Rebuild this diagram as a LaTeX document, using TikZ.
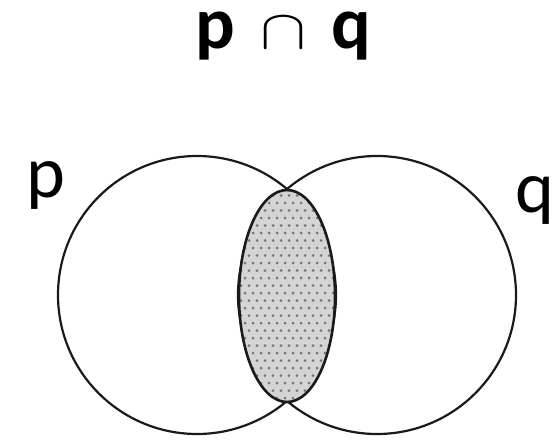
\documentclass[tikz,border=0pt]{standalone}
\usepackage{fontspec}
\setmainfont{Carlito}
\usepackage{graphicx}
\usepackage{tikz}
\definecolor{vennLine}{HTML}{1A1A1A}
\definecolor{vennFill}{HTML}{D4D4D4}
\definecolor{vennDot}{HTML}{737373}

\begin{document}
\begin{tikzpicture}[x=1pt, y=-1pt, font=\fontsize{74}{80}\selectfont]
        \useasboundingbox (0,0) rectangle (559,439);
        % Título
        \node[anchor=base, inner sep=0pt, text height=36pt, font=\fontsize{74}{80}\selectfont\bfseries] (titulo) at (283,48)
          {p\hspace{25pt}\resizebox{46pt}{31pt}{$\cap$}\hspace{25pt}q};
        % Conjuntos p y q
        \draw[vennLine, line width=2.2pt] (197,295) circle (139);
        \draw[vennLine, line width=2.2pt] (377,295) circle (139);
        % Intersección: relleno gris con puntos (tapa los arcos)
        \begin{scope}
          \clip (287,296) ellipse [x radius=48, y radius=106];
          \fill[vennFill] (230,180) rectangle (345,410);
          \foreach \i in {0,...,14} {
            \foreach \j in {0,...,15} {
              \fill[vennDot] (237+8*\i,188+15*\j) circle (1.5pt);
              \fill[vennDot] (241+8*\i,195.5+15*\j) circle (1.5pt);
            }
          }
        \end{scope}
        \draw[vennLine, line width=2.6pt] (287,296) ellipse [x radius=48, y radius=106];
        % Etiquetas
        \node[anchor=base, inner sep=0pt, text height=36pt] (etiqP) at (46,197) {p};
        \node[anchor=base, inner sep=0pt, text height=36pt] (etiqQ) at (535,212) {q};
      \end{tikzpicture}
\end{document}
